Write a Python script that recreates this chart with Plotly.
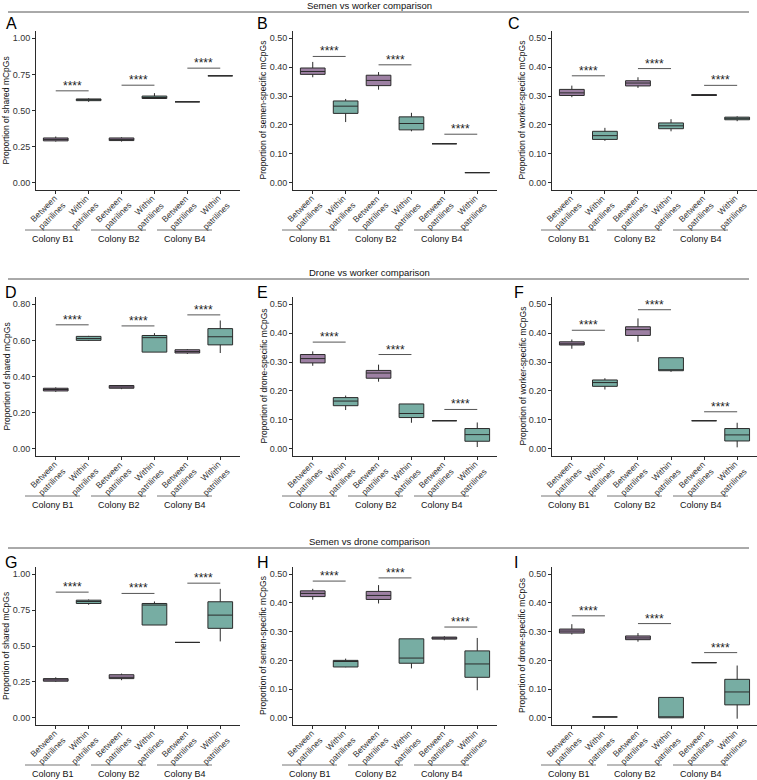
import plotly.graph_objects as go

# ---------------- data ----------------
categories = ["B1_between", "B1_within", "B2_between", "B2_within", "B4_between", "B4_within"]
tick_line1 = ["Between", "Within", "Between", "Within", "Between", "Within"]
tick_line2 = ["patrilines", "patrilines", "patrilines", "patrilines", "patrilines", "patrilines"]
colonies = ["Colony B1", "Colony B2", "Colony B4"]
section_titles = ["Semen vs worker comparison", "Drone vs worker comparison", "Semen vs drone comparison"]
panel_letters = ["A", "B", "C", "D", "E", "F", "G", "H", "I"]
y_titles = [
    "Proportion of shared mCpGs", "Proportion of semen-specific mCpGs", "Proportion of worker-specific mCpGs",
    "Proportion of shared mCpGs", "Proportion of drone-specific mCpGs", "Proportion of worker-specific mCpGs",
    "Proportion of shared mCpGs", "Proportion of semen-specific mCpGs", "Proportion of drone-specific mCpGs",
]
sig_label = "****"

# y-axis settings per panel: (max, tick step)
A_axis = [1.00, 0.25]; B_axis = [0.50, 0.10]; C_axis = [0.50, 0.10]
D_axis = [0.80, 0.20]; E_axis = [0.50, 0.10]; F_axis = [0.50, 0.10]
G_axis = [1.00, 0.25]; H_axis = [0.50, 0.10]; I_axis = [0.50, 0.10]

A_lower = [0.285, 0.560, 0.285, 0.580, 0.560, 0.740]
A_q1 = [0.290, 0.568, 0.292, 0.583, 0.560, 0.740]
A_median = [0.300, 0.575, 0.300, 0.590, 0.560, 0.740]
A_q3 = [0.310, 0.580, 0.310, 0.600, 0.560, 0.740]
A_upper = [0.320, 0.585, 0.315, 0.620, 0.560, 0.740]
A_sig = [0.636, 0.675, 0.793]

B_lower = [0.365, 0.210, 0.322, 0.178, 0.135, 0.035]
B_q1 = [0.375, 0.240, 0.336, 0.183, 0.135, 0.035]
B_median = [0.385, 0.265, 0.354, 0.205, 0.135, 0.035]
B_q3 = [0.397, 0.283, 0.372, 0.228, 0.135, 0.035]
B_upper = [0.418, 0.290, 0.383, 0.242, 0.135, 0.035]
B_sig = [0.437, 0.408, 0.168]

C_lower = [0.296, 0.145, 0.328, 0.178, 0.302, 0.213]
C_q1 = [0.302, 0.150, 0.335, 0.187, 0.302, 0.218]
C_median = [0.311, 0.163, 0.345, 0.197, 0.303, 0.223]
C_q3 = [0.323, 0.178, 0.353, 0.207, 0.305, 0.227]
C_upper = [0.336, 0.190, 0.365, 0.220, 0.305, 0.230]
C_sig = [0.370, 0.395, 0.337]

D_lower = [0.315, 0.597, 0.330, 0.535, 0.525, 0.530]
D_q1 = [0.320, 0.600, 0.335, 0.535, 0.530, 0.575]
D_median = [0.328, 0.610, 0.342, 0.615, 0.538, 0.620]
D_q3 = [0.335, 0.622, 0.350, 0.627, 0.548, 0.665]
D_upper = [0.340, 0.625, 0.352, 0.640, 0.552, 0.710]
D_sig = [0.686, 0.680, 0.741]

E_lower = [0.287, 0.134, 0.232, 0.090, 0.097, 0.006]
E_q1 = [0.297, 0.149, 0.244, 0.108, 0.097, 0.026]
E_median = [0.312, 0.165, 0.262, 0.122, 0.097, 0.049]
E_q3 = [0.326, 0.177, 0.271, 0.155, 0.097, 0.070]
E_upper = [0.337, 0.184, 0.291, 0.155, 0.097, 0.091]
E_sig = [0.369, 0.326, 0.136]

F_lower = [0.346, 0.205, 0.370, 0.266, 0.097, 0.005]
F_q1 = [0.359, 0.216, 0.392, 0.270, 0.097, 0.027]
F_median = [0.363, 0.229, 0.412, 0.270, 0.097, 0.048]
F_q3 = [0.370, 0.238, 0.422, 0.315, 0.097, 0.070]
F_upper = [0.378, 0.244, 0.451, 0.315, 0.097, 0.090]
F_sig = [0.410, 0.481, 0.128]

G_lower = [0.250, 0.787, 0.262, 0.646, 0.525, 0.532]
G_q1 = [0.255, 0.796, 0.273, 0.646, 0.525, 0.623]
G_median = [0.264, 0.810, 0.282, 0.785, 0.525, 0.715]
G_q3 = [0.273, 0.819, 0.300, 0.796, 0.525, 0.808]
G_upper = [0.282, 0.824, 0.308, 0.810, 0.525, 0.898]
G_sig = [0.875, 0.866, 0.9375]

H_lower = [0.411, 0.176, 0.398, 0.172, 0.270, 0.096]
H_q1 = [0.422, 0.177, 0.412, 0.190, 0.274, 0.141]
H_median = [0.433, 0.196, 0.426, 0.208, 0.278, 0.1875]
H_q3 = [0.442, 0.200, 0.440, 0.275, 0.281, 0.233]
H_upper = [0.449, 0.206, 0.462, 0.275, 0.284, 0.278]
H_sig = [0.476, 0.487, 0.316]

I_lower = [0.290, 0.003, 0.265, 0.000, 0.192, -0.003]
I_q1 = [0.295, 0.003, 0.272, 0.000, 0.192, 0.045]
I_median = [0.302, 0.003, 0.278, 0.000, 0.192, 0.090]
I_q3 = [0.309, 0.003, 0.285, 0.071, 0.192, 0.134]
I_upper = [0.326, 0.003, 0.295, 0.071, 0.192, 0.182]
I_sig = [0.355, 0.328, 0.227]

panels = [
    (A_lower, A_q1, A_median, A_q3, A_upper, A_sig, A_axis),
    (B_lower, B_q1, B_median, B_q3, B_upper, B_sig, B_axis),
    (C_lower, C_q1, C_median, C_q3, C_upper, C_sig, C_axis),
    (D_lower, D_q1, D_median, D_q3, D_upper, D_sig, D_axis),
    (E_lower, E_q1, E_median, E_q3, E_upper, E_sig, E_axis),
    (F_lower, F_q1, F_median, F_q3, F_upper, F_sig, F_axis),
    (G_lower, G_q1, G_median, G_q3, G_upper, G_sig, G_axis),
    (H_lower, H_q1, H_median, H_q3, H_upper, H_sig, H_axis),
    (I_lower, I_q1, I_median, I_q3, I_upper, I_sig, I_axis),
]

# ---------------- layout / style ----------------
W, H = 757, 780
FONT = "Liberation Sans, Arial, sans-serif"
PURPLE = "#9d80a3"
TEAL = "#77ada3"
LINE = "#2b2b2b"
col_px = [(36, 240), (293, 497), (552, 757)]
row_px = [(31, 190), (297, 456), (567, 725)]
letter_px = [(5, 23), (256, 23), (507, 23),
             (4, 292), (256, 292), (513, 292),
             (4, 562), (256, 562), (513, 562)]
section_y = [6, 272, 541]
section_line_y = [12, 279, 548]


def px_x(p):
    return p / W


def px_y(p):
    return 1 - p / H


fig = go.Figure()
shapes = []
annotations = []
layout_axes = {}

for i, (lo, q1, med, q3, hi, sig, ax) in enumerate(panels):
    r, c = divmod(i, 3)
    n = "" if i == 0 else str(i + 1)
    xa, ya = "x" + n, "y" + n
    for grp, color in ((0, PURPLE), (1, TEAL)):
        idx = [k for k in range(6) if k % 2 == grp]
        fig.add_trace(go.Box(
            x=[categories[k] for k in idx],
            lowerfence=[lo[k] for k in idx], q1=[q1[k] for k in idx],
            median=[med[k] for k in idx], q3=[q3[k] for k in idx],
            upperfence=[hi[k] for k in idx],
            width=0.75, whiskerwidth=0, boxpoints=False,
            fillcolor=color, line=dict(color=LINE, width=1),
            xaxis=xa, yaxis=ya, showlegend=False, hoverinfo="skip"))
    ymax, step = ax
    pad = ymax * 0.05
    x0p, x1p = col_px[c]
    y0p, y1p = row_px[r]
    layout_axes["xaxis" + n] = dict(
        domain=[px_x(x0p), px_x(x1p)], anchor=ya, type="category",
        categoryorder="array", categoryarray=categories, range=[-0.6, 5.6],
        tickvals=categories, showticklabels=False,
        showline=True, linecolor=LINE, linewidth=1, ticks="outside", ticklen=3,
        tickcolor=LINE, showgrid=False, zeroline=False)
    layout_axes["yaxis" + n] = dict(
        domain=[px_y(y1p), px_y(y0p)], anchor=xa, range=[-pad, ymax + pad],
        tick0=0, dtick=step, tickformat=".2f",
        tickfont=dict(size=9, color="#333", family=FONT),
        showline=True, linecolor=LINE, linewidth=1, ticks="outside", ticklen=3,
        tickcolor=LINE, showgrid=False, zeroline=False)
    # y-axis title
    annotations.append(dict(text=y_titles[i], xref="paper", yref="paper",
                            x=px_x(x0p - 30), y=px_y((y0p + y1p) / 2),
                            xanchor="center", yanchor="middle", textangle=-90,
                            showarrow=False, borderpad=0,
                            font=dict(size=8.5, color="#111", family=FONT)))
    # rotated category labels (two lines, right-aligned at the tick)
    for k in range(6):
        annotations.append(dict(text=tick_line1[k], xref=xa, yref="paper", x=k,
                                y=px_y(y1p + 2), xanchor="right", yanchor="top",
                                textangle=-45, showarrow=False, xshift=4, borderpad=0,
                                font=dict(size=8.5, color="#333", family=FONT)))
        annotations.append(dict(text=tick_line2[k], xref=xa, yref="paper", x=k,
                                y=px_y(y1p + 9), xanchor="right", yanchor="top",
                                textangle=-45, showarrow=False, xshift=13, borderpad=0,
                                font=dict(size=8.5, color="#333", family=FONT)))
    # significance brackets
    for j, yv in enumerate(sig):
        shapes.append(dict(type="line", xref=xa, yref=ya, x0=2 * j, x1=2 * j + 1,
                           y0=yv, y1=yv, line=dict(color="#555", width=1)))
        annotations.append(dict(text=sig_label, xref=xa, yref=ya, x=2 * j + 0.5, y=yv,
                                yanchor="bottom", showarrow=False, yshift=-4,
                                font=dict(size=12, color="#222", family=FONT)))
    # colony groupings below axis
    for j, name in enumerate(colonies):
        lx0 = x0p - 11 + 66 * j
        lx1 = x0p + 44 + 66 * j
        ly = y1p + 40
        shapes.append(dict(type="line", xref="paper", yref="paper",
                           x0=px_x(lx0), x1=px_x(lx1), y0=px_y(ly), y1=px_y(ly),
                           line=dict(color="#777", width=1)))
        annotations.append(dict(text=name, xref="paper", yref="paper",
                                x=px_x((lx0 + lx1) / 2), y=px_y(ly + 8.5),
                                xanchor="center", yanchor="middle", showarrow=False,
                                borderpad=0,
                                font=dict(size=9, color="#111", family=FONT)))
    # panel letter
    lx, ly = letter_px[i]
    annotations.append(dict(text=panel_letters[i], xref="paper", yref="paper",
                            x=px_x(lx), y=px_y(ly), xanchor="left", yanchor="middle",
                            showarrow=False, borderpad=0,
                            font=dict(size=16, color="#000", family=FONT)))

for r in range(3):
    annotations.append(dict(text=section_titles[r], xref="paper", yref="paper",
                            x=px_x(369), y=px_y(section_y[r]), xanchor="center",
                            yanchor="middle", showarrow=False, borderpad=0,
                            font=dict(size=9.5, color="#111", family=FONT)))
    shapes.append(dict(type="line", xref="paper", yref="paper",
                       x0=px_x(8), x1=px_x(749), y0=px_y(section_line_y[r]),
                       y1=px_y(section_line_y[r]), line=dict(color="#555", width=1)))

fig.update_layout(
    width=W, height=H, margin=dict(l=0, r=0, t=0, b=0),
    paper_bgcolor="white", plot_bgcolor="white",
    boxmode="overlay", showlegend=False,
    font=dict(family=FONT),
    shapes=shapes, annotations=annotations, **layout_axes)

fig.write_html("out.html", config={"displayModeBar": False},
               post_script="document.body.style.margin='0';document.body.style.overflow='hidden';")
